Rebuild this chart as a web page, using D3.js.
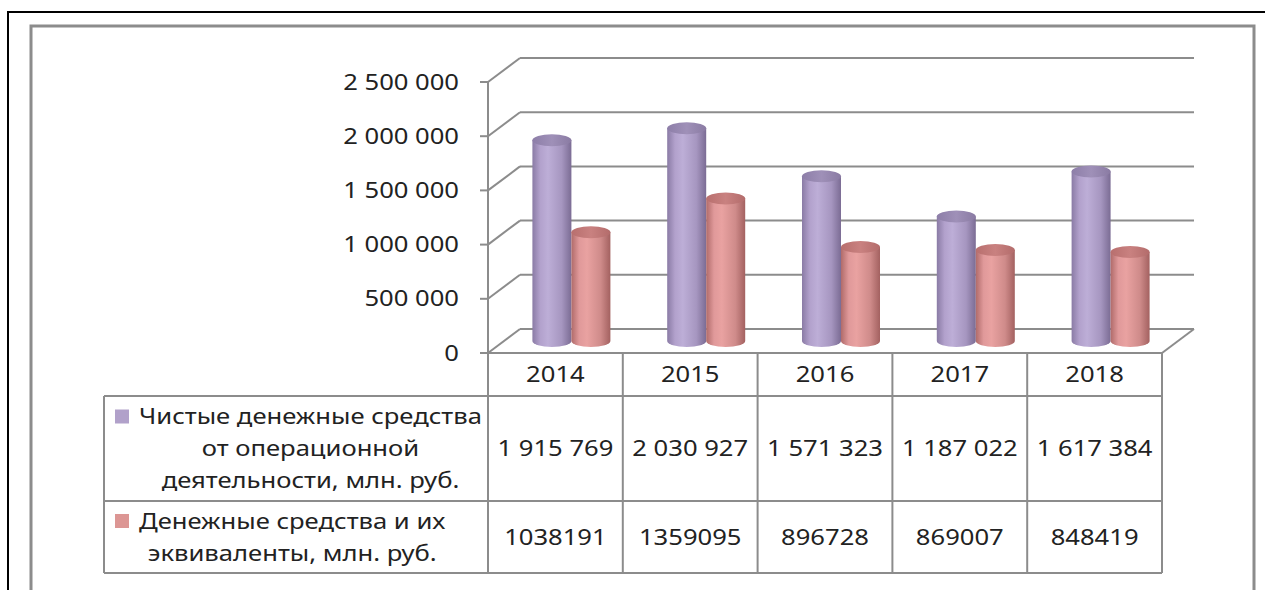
<!DOCTYPE html>
<html>
<head>
<meta charset="utf-8">
<script src="https://cdn.jsdelivr.net/npm/d3@7"></script>
<style>
  body { margin: 0; background: #fff; }
  svg { display: block; }
  text { font-family: "Noto Sans", "Open Sans", sans-serif; fill: #222; }
</style>
</head>
<body>
<script>
// data
const years = ["2014", "2015", "2016", "2017", "2018"];
const opCash = [1915769, 2030927, 1571323, 1187022, 1617384];
const cashEq = [1038191, 1359095, 896728, 869007, 848419];
const yTicks = [0, 500000, 1000000, 1500000, 2000000, 2500000];
const seriesNames = [
	["Чистые денежные средства", "от операционной", "деятельности, млн. руб."],
	["Денежные средства и их", "эквиваленты, млн. руб."],
];

const W = 1265, H = 590;
const fontSize = 21;
const stretch = 1.22; // text in the picture is wider than normal
const grid = "#8c8c8c";

const svg = d3.select("body").append("svg")
	.attr("width", W)
	.attr("height", H);

const defs = svg.append("defs");
function cylGrad(id, stops) {
	const g = defs.append("linearGradient")
		.attr("id", id)
		.attr("x1", 0).attr("x2", 1)
		.attr("y1", 0).attr("y2", 0);
	stops.forEach(s => g.append("stop").attr("offset", s[0]).attr("stop-color", s[1]));
}
cylGrad("gPurple", [[0, "#8a7ba5"], [0.2, "#b2a1cc"], [0.4, "#bdaed7"], [0.75, "#a696c0"], [1, "#7b6c94"]]);
cylGrad("gPink", [[0, "#b06b6a"], [0.2, "#e0999a"], [0.4, "#e9a2a1"], [0.75, "#cf8b8a"], [1, "#a36160"]]);
cylGrad("gPurpleTop", [[0, "#8d7ea8"], [0.5, "#9f90b8"], [1, "#8a7ba3"]]);
cylGrad("gPinkTop", [[0, "#b86f6e"], [0.5, "#c98180"], [1, "#b36c6b"]]);

const colors = [
	{ body: "url(#gPurple)", top: "url(#gPurpleTop)", key: "#b1a1ca" },
	{ body: "url(#gPink)", top: "url(#gPinkTop)", key: "#dc9694" },
];

// page frames
svg.append("path")
	.attr("d", `M8,${H + 2}V12H${W + 2}`)
	.attr("fill", "none").attr("stroke", "#000").attr("stroke-width", 2);
svg.append("path")
	.attr("d", `M31,${H + 2}V26H1254V${H + 2}`)
	.attr("fill", "none").attr("stroke", grid).attr("stroke-width", 3);

// scales
const x = d3.scaleBand().domain(years).range([488, 1162]);
const yFront = d3.scaleLinear().domain([0, 2500000]).range([353, 82]);
const depth = { dx: 32, dy: -24 };
const yBar = d3.scaleLinear().domain([0, 2500000]).range([341, 79]);
const xs = d3.scaleBand().domain([0, 1]).range([-39, 39]);

// walls and gridlines
const walls = svg.append("g")
	.attr("fill", "none")
	.attr("stroke", grid)
	.attr("stroke-width", 2);

walls.selectAll("line.back")
	.data(yTicks)
	.join("line")
	.attr("class", "back")
	.attr("x1", x.range()[0] + depth.dx)
	.attr("x2", x.range()[1] + depth.dx)
	.attr("y1", d => yFront(d) + depth.dy)
	.attr("y2", d => yFront(d) + depth.dy);

walls.selectAll("line.side")
	.data(yTicks)
	.join("line")
	.attr("class", "side")
	.attr("x1", x.range()[0])
	.attr("x2", x.range()[0] + depth.dx)
	.attr("y1", d => yFront(d))
	.attr("y2", d => yFront(d) + depth.dy);

walls.selectAll("line.tick")
	.data(yTicks)
	.join("line")
	.attr("class", "tick")
	.attr("x1", x.range()[0] - 8)
	.attr("x2", x.range()[0])
	.attr("y1", d => yFront(d))
	.attr("y2", d => yFront(d));

walls.append("line") // value axis
	.attr("x1", x.range()[0]).attr("x2", x.range()[0])
	.attr("y1", yFront(2500000)).attr("y2", yFront(0));

walls.append("line") // floor, right edge
	.attr("x1", x.range()[1]).attr("x2", x.range()[1] + depth.dx)
	.attr("y1", yFront(0)).attr("y2", yFront(0) + depth.dy);

// stretched text helper
function label(g, str, px, py, anchor) {
	return g.append("text")
		.attr("transform", `translate(${px},${py}) scale(${stretch},1)`)
		.attr("text-anchor", anchor || "middle")
		.attr("dy", "0.36em")
		.attr("font-size", fontSize)
		.text(str);
}

const yLabels = svg.append("g");
const spaced = d3.formatLocale({ thousands: "\u00a0", grouping: [3], decimal: "," }).format(",");
yTicks.forEach(v => label(yLabels, spaced(v), 459, yFront(v), "end"));

// cylinders
const rx = xs.bandwidth() / 2, ry = 6;
const bars = svg.append("g");
years.forEach((yr, i) => {
	[opCash[i], cashEq[i]].forEach((v, s) => {
		const cx = x(yr) + x.bandwidth() / 2 + depth.dx / 2 + xs(s) + rx;
		const yb = yBar(0), yt = yBar(v);
		bars.append("path")
			.attr("d", `M${cx - rx},${yt}L${cx - rx},${yb}A${rx},${ry} 0 0 0 ${cx + rx},${yb}L${cx + rx},${yt}Z`)
			.attr("fill", colors[s].body);
		bars.append("ellipse")
			.attr("cx", cx).attr("cy", yt)
			.attr("rx", rx).attr("ry", ry)
			.attr("fill", colors[s].top);
	});
});

// data table
const rows = [353, 396, 501, 573];
const tableLeft = 104;
const table = svg.append("g")
	.attr("fill", "none")
	.attr("stroke", grid)
	.attr("stroke-width", 2);

table.append("line")
	.attr("x1", x.range()[0]).attr("x2", x.range()[1])
	.attr("y1", rows[0]).attr("y2", rows[0]);
rows.slice(1).forEach(r => table.append("line")
	.attr("x1", tableLeft).attr("x2", x.range()[1])
	.attr("y1", r).attr("y2", r));
table.append("line")
	.attr("x1", tableLeft).attr("x2", tableLeft)
	.attr("y1", rows[1]).attr("y2", rows[3]);
years.concat(["end"]).forEach((yr, i) => {
	const px = i < years.length ? x(yr) : x.range()[1];
	table.append("line")
		.attr("x1", px).attr("x2", px)
		.attr("y1", rows[0]).attr("y2", rows[3]);
});

const cells = svg.append("g");
years.forEach((yr, i) => {
	const cx = x(yr) + x.bandwidth() / 2;
	label(cells, yr, cx, (rows[0] + rows[1]) / 2);
	label(cells, spaced(opCash[i]), cx, (rows[1] + rows[2]) / 2);
	label(cells, String(cashEq[i]), cx, (rows[2] + rows[3]) / 2);
});

// legend cells
const lineH = 32;
seriesNames.forEach((lines, s) => {
	const mid = (rows[s + 1] + rows[s + 2]) / 2;
	const y0 = mid - (lines.length - 1) * lineH / 2;
	const g = svg.append("g");
	const texts = lines.map((t, k) => label(g, t, 0, y0 + k * lineH));
	const widths = texts.map(t => t.node().getComputedTextLength() * stretch);
	const blockW = d3.max(widths);
	const textX = 139;
	texts.forEach((t, k) => t.attr("transform",
		`translate(${textX + blockW / 2},${y0 + k * lineH}) scale(${stretch},1)`));
	g.append("rect")
		.attr("x", 115).attr("y", y0 - 7)
		.attr("width", 14).attr("height", 14)
		.attr("fill", colors[s].key);
});
</script>
</body>
</html>
